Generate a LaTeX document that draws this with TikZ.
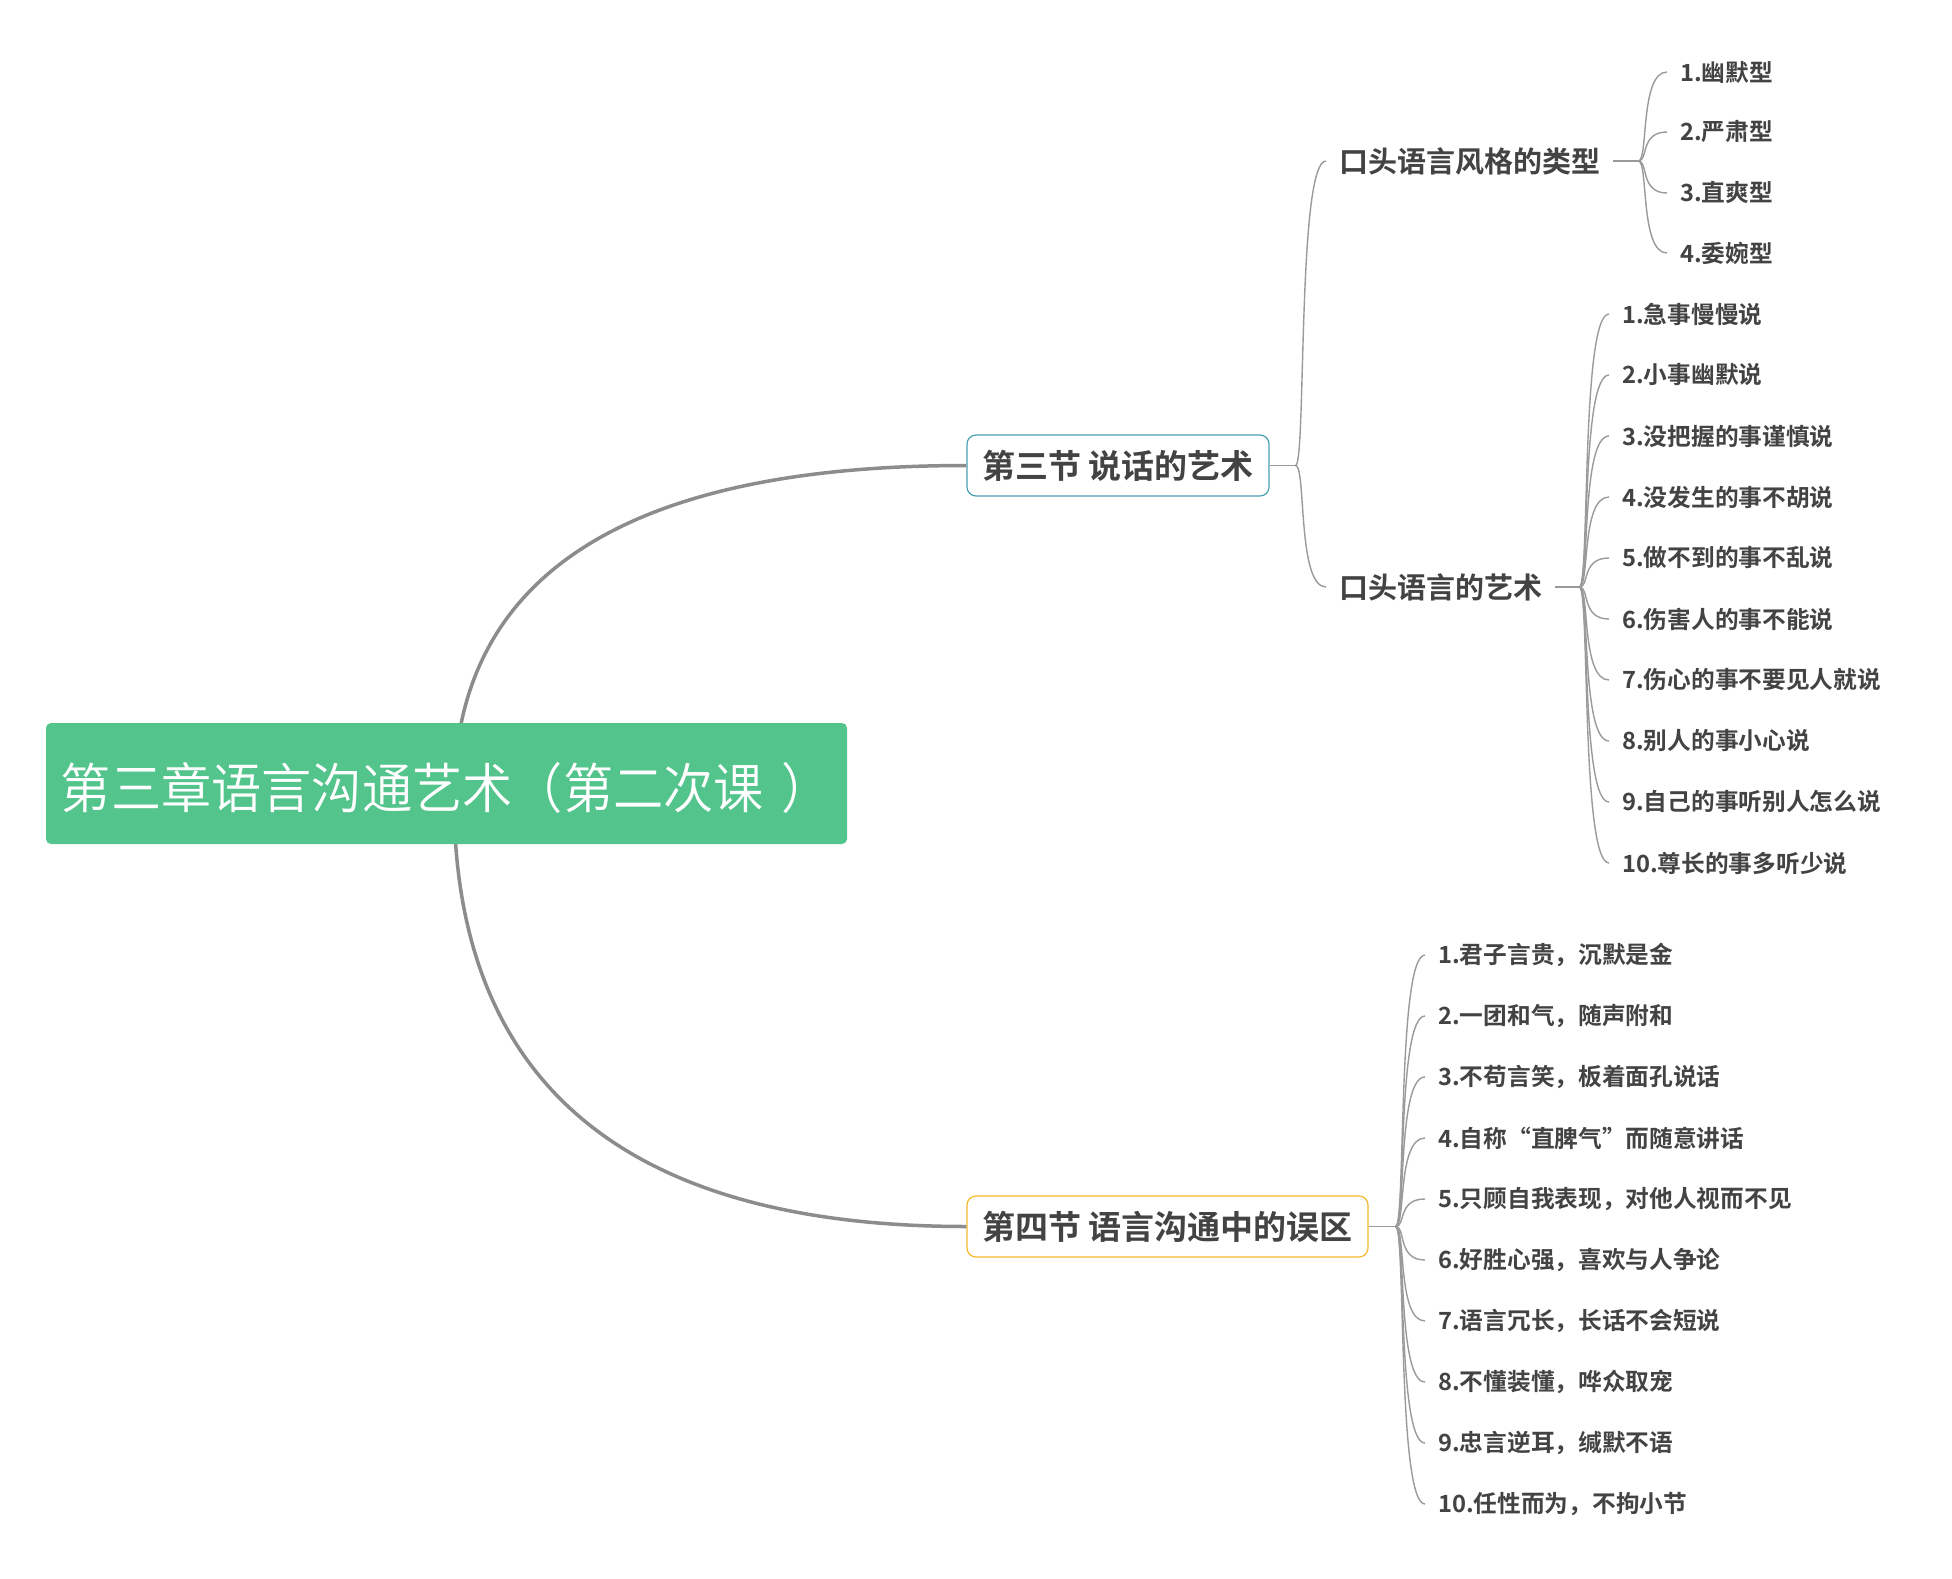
\documentclass[tikz,border=0pt]{standalone}
\usepackage{fontspec}
\newfontfamily\cjk{Noto Sans CJK SC}[BoldFont={Noto Sans CJK SC Bold}]
\newfontfamily\cjklight{Noto Sans CJK SC DemiLight}[FakeStretch=0.93]
\usetikzlibrary{calc}
\definecolor{rootgreen}{HTML}{52C48C}
\definecolor{txt}{HTML}{434343}
\definecolor{teal3}{HTML}{4A9FB3}
\definecolor{orange4}{HTML}{F5B92C}
\definecolor{trunkgray}{HTML}{8C8C8C}
\definecolor{twiggray}{HTML}{9A9A9A}
\newcommand\brc[2]{\draw[twig] let \p1=(#1), \p2=(#2) in (\p1) .. controls ({\x1+0.35*(\x2-\x1)},\y1) and ({\x1+0.05*(\x2-\x1)},\y2) .. (\p2);}
\tikzset{
  rootnode/.style={fill=rootgreen, rounded corners=5pt, minimum width=801pt, minimum height=121pt, inner sep=0pt, text=white, font=\cjklight\fontsize{54}{60}\selectfont},
  secnode/.style={draw, line width=1.2pt, rounded corners=9pt, fill=white, minimum height=61pt, inner xsep=14pt, text=txt, font=\cjk\bfseries\fontsize{33}{38}\selectfont},
  subnode/.style={anchor=west, inner xsep=13pt, inner ysep=0pt, text=txt, font=\cjk\bfseries\fontsize{29}{34}\selectfont},
  leaf/.style={anchor=west, inner xsep=13pt, inner ysep=0pt, text=txt, font=\cjk\bfseries\fontsize{23.7}{28}\selectfont},
  trunk/.style={draw=trunkgray, line width=3.5pt},
  twig/.style={draw=twiggray, line width=1.4pt}
}
\begin{document}
\begin{tikzpicture}[x=1pt,y=-1pt]
\fill[white] (0,0) rectangle (1952,1579);
\useasboundingbox (0,0) rectangle (1952,1579);

% section nodes
\node[secnode, draw=teal3, minimum width=302pt] (s3) at (1118,465.5) {第三节 说话的艺术};
\node[secnode, draw=orange4, minimum width=401pt] (s4) at (1167.5,1226.5) {第四节 语言沟通中的误区};

% sub nodes
\node[subnode] (t1) at (1326,161) {口头语言风格的类型};
\node[subnode] (t2) at (1326,587) {口头语言的艺术};

% leaves of t1
\node[leaf] (a1) at (1667,72) {1.幽默型};
\node[leaf] (a2) at (1667,132) {2.严肃型};
\node[leaf] (a3) at (1667,193) {3.直爽型};
\node[leaf] (a4) at (1667,253) {4.委婉型};

% leaves of t2
\node[leaf] (b1) at (1609,314) {1.急事慢慢说};
\node[leaf] (b2) at (1609,375) {2.小事幽默说};
\node[leaf] (b3) at (1609,436) {3.没把握的事谨慎说};
\node[leaf] (b4) at (1609,497) {4.没发生的事不胡说};
\node[leaf] (b5) at (1609,558) {5.做不到的事不乱说};
\node[leaf] (b6) at (1609,619) {6.伤害人的事不能说};
\node[leaf] (b7) at (1609,680) {7.伤心的事不要见人就说};
\node[leaf] (b8) at (1609,741) {8.别人的事小心说};
\node[leaf] (b9) at (1609,802) {9.自己的事听别人怎么说};
\node[leaf] (b10) at (1609,863) {10.尊长的事多听少说};

% leaves of s4
\node[leaf] (c1) at (1425,955) {1.君子言贵，沉默是金};
\node[leaf] (c2) at (1425,1016) {2.一团和气，随声附和};
\node[leaf] (c3) at (1425,1077) {3.不苟言笑，板着面孔说话};
\node[leaf] (c4) at (1425,1138) {4.自称“直脾气”而随意讲话};
\node[leaf] (c5) at (1425,1199) {5.只顾自我表现，对他人视而不见};
\node[leaf] (c6) at (1425,1260) {6.好胜心强，喜欢与人争论};
\node[leaf] (c7) at (1425,1321) {7.语言冗长，长话不会短说};
\node[leaf] (c8) at (1425,1382) {8.不懂装懂，哗众取宠};
\node[leaf] (c9) at (1425,1443) {9.忠言逆耳，缄默不语};
\node[leaf] (c10) at (1425,1504) {10.任性而为，不拘小节};

% junctions
\coordinate (j3) at ($(s3.east)+(26,0)$);
\coordinate (j1) at ($(t1.east)+(25,0)$);
\coordinate (j2) at ($(t2.east)+(24,0)$);
\coordinate (j4) at ($(s4.east)+(27,0)$);

\draw[twig] (s3.east) -- (j3);
\draw[twig] (t1.east) -- (j1);
\draw[twig] (t2.east) -- (j2);
\draw[twig] (s4.east) -- (j4);

\brc{j3}{t1.west}
\brc{j3}{t2.west}
\foreach \nm in {a1,a2,a3,a4} {\brc{j1}{\nm.west}}
\foreach \nm in {b1,b2,b3,b4,b5,b6,b7,b8,b9,b10} {\brc{j2}{\nm.west}}
\foreach \nm in {c1,c2,c3,c4,c5,c6,c7,c8,c9,c10} {\brc{j4}{\nm.west}}

% trunk curves from root
\coordinate (r0) at (454,797);
\draw[trunk] (r0) .. controls (454,576) and (625,465.5) .. (s3.west);
\draw[trunk] (r0) .. controls (454,1083) and (625,1226.5) .. (s4.west);

% root node on top
\node[rootnode] (root) at (446.5,783.5) {\raisebox{-25pt}[0pt][0pt]{第三章语言沟通艺术（第二次课\hspace{18pt}）}};
\end{tikzpicture}
\end{document}
